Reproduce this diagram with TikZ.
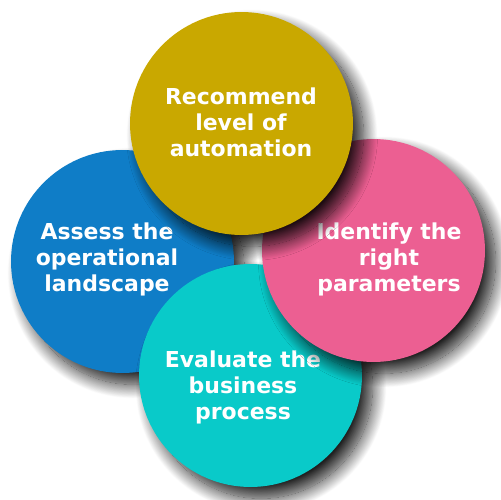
\documentclass[tikz,border=0pt]{standalone}
\usepackage{fontspec}
\setmainfont{DejaVu Sans}
\usepackage{tikz}
\usetikzlibrary{shadows.blur}

\definecolor{stepyellow}{HTML}{C9A800}
\definecolor{stepblue}{HTML}{0F7DC7}
\definecolor{steppink}{HTML}{EC5F92}
\definecolor{stepteal}{HTML}{09CAC9}

\begin{document}
\begin{tikzpicture}[x=0.02cm, y=-0.02cm,
        bubble/.style={circle, minimum size=4.46cm, inner sep=0pt,
            blur shadow={shadow xshift=6pt, shadow yshift=-6.5pt,
                shadow blur radius=8pt, shadow blur steps=24,
                shadow opacity=88}},
        caption/.style={text=white, font=\bfseries\fontsize{12.5}{14.8}\selectfont,
            align=center}
    ]
        \useasboundingbox (0,0) rectangle (500,500);

        % four steps, back to front
        \node[bubble, fill=stepblue] (assess) at (122.5,261.5) {};
        \node[caption] (assesstext) at (107,259) {Assess the\\operational\\landscape};

        \node[bubble, fill=stepteal] (evaluate) at (250.5,375.5) {};
        \node[caption] (evaluatetext) at (243,387) {Evaluate the\\business\\process};

        \node[bubble, fill=steppink] (identify) at (373.5,250.5) {};
        \node[caption] (identifytext) at (389,259) {Identify the\\right\\parameters};

        \node[bubble, fill=stepyellow] (recommend) at (241.5,123.5) {};
        \node[caption] (recommendtext) at (241,122) {Recommend\\level of\\automation};
\end{tikzpicture}
\end{document}
